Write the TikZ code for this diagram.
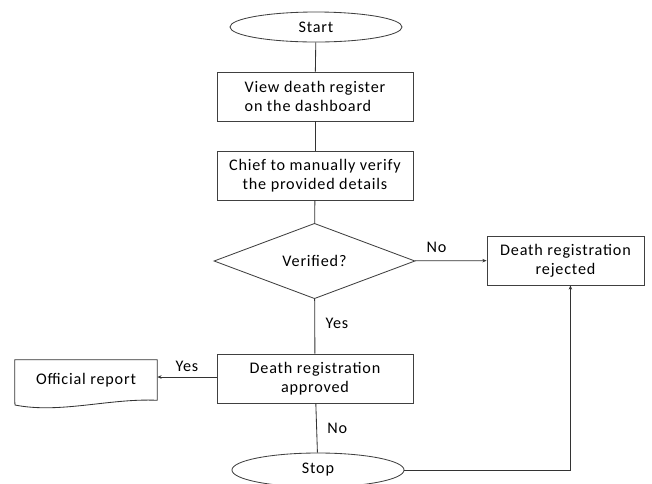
\documentclass[tikz,border=0pt]{standalone}
\usepackage{fontspec}
\setmainfont{Carlito}[LetterSpace=5]
\usetikzlibrary{shapes.geometric,arrows.meta}
\begin{document}
\begin{tikzpicture}[x=0.025cm,y=-0.025cm,
    every node/.style={font=\fontsize{11.5}{13.5}\selectfont},
    terminal/.style={ellipse,draw=black!75,line width=0.6pt,minimum width=4.3cm,minimum height=0.75cm},
    process/.style={rectangle,draw=black!75,line width=0.6pt,minimum width=4.9cm,minimum height=1.225cm,align=center},
    decision/.style={diamond,draw=black!75,line width=0.6pt,minimum width=5.025cm,minimum height=1.45cm,inner sep=0pt},
    link/.style={draw=black!80,line width=0.6pt},
    tip/.style={-{Stealth[length=3pt,width=2.5pt]}}]

      \useasboundingbox (0,0) rectangle (652,483);

      % Alur utama
      \node[terminal] (start) at (316,27) {Start};
      \node[process,align=left] (view) at (315,96.5) {View death register\\on the dashboard};
      \node[process] (chief) at (315,175.5) {Chief to manually verify\\the provided details};
      \node[decision] (verif) at (314.5,261) {Verified?};
      \node[process] (appr) at (315,378.5) {Death registration\\approved};
      \node[terminal,minimum height=0.85cm] (stop) at (318,470) {Stop};

      % Cabang samping
      \node[process,minimum width=3.925cm] (rej) at (565.5,260.5) {Death registration\\rejected};
      \node (rep) at (86,380) [minimum width=3.55cm,minimum height=1cm] {Official report};

      % Bentuk dokumen
      \draw[link] (rep.south west) -- (rep.north west) -- (rep.north east) -- (rep.south east)
        .. controls (110,398) and (60,414) .. (15,405) -- (rep.south west);

      % Panah
      \draw[link] (start) -- (view);
      \draw[link] (view) -- (chief);
      \draw[link] (chief) -- (verif);
      \draw[link,tip] (verif) -- node[above,pos=0.3,yshift=2pt] {No} (rej);
      \draw[link] (verif) -- node[right,pos=0.45,xshift=4pt] {Yes} (appr);
      \draw[link,tip] (appr.west |- 0,377) -- node[above] {Yes} (rep.east |- 0,377);
      \draw[link] (appr) -- node[right,xshift=4pt] {No} (stop);
      \draw[link,tip] (stop.east) -| ([xshift=3.5]rej.south);
    \end{tikzpicture}
\end{document}
